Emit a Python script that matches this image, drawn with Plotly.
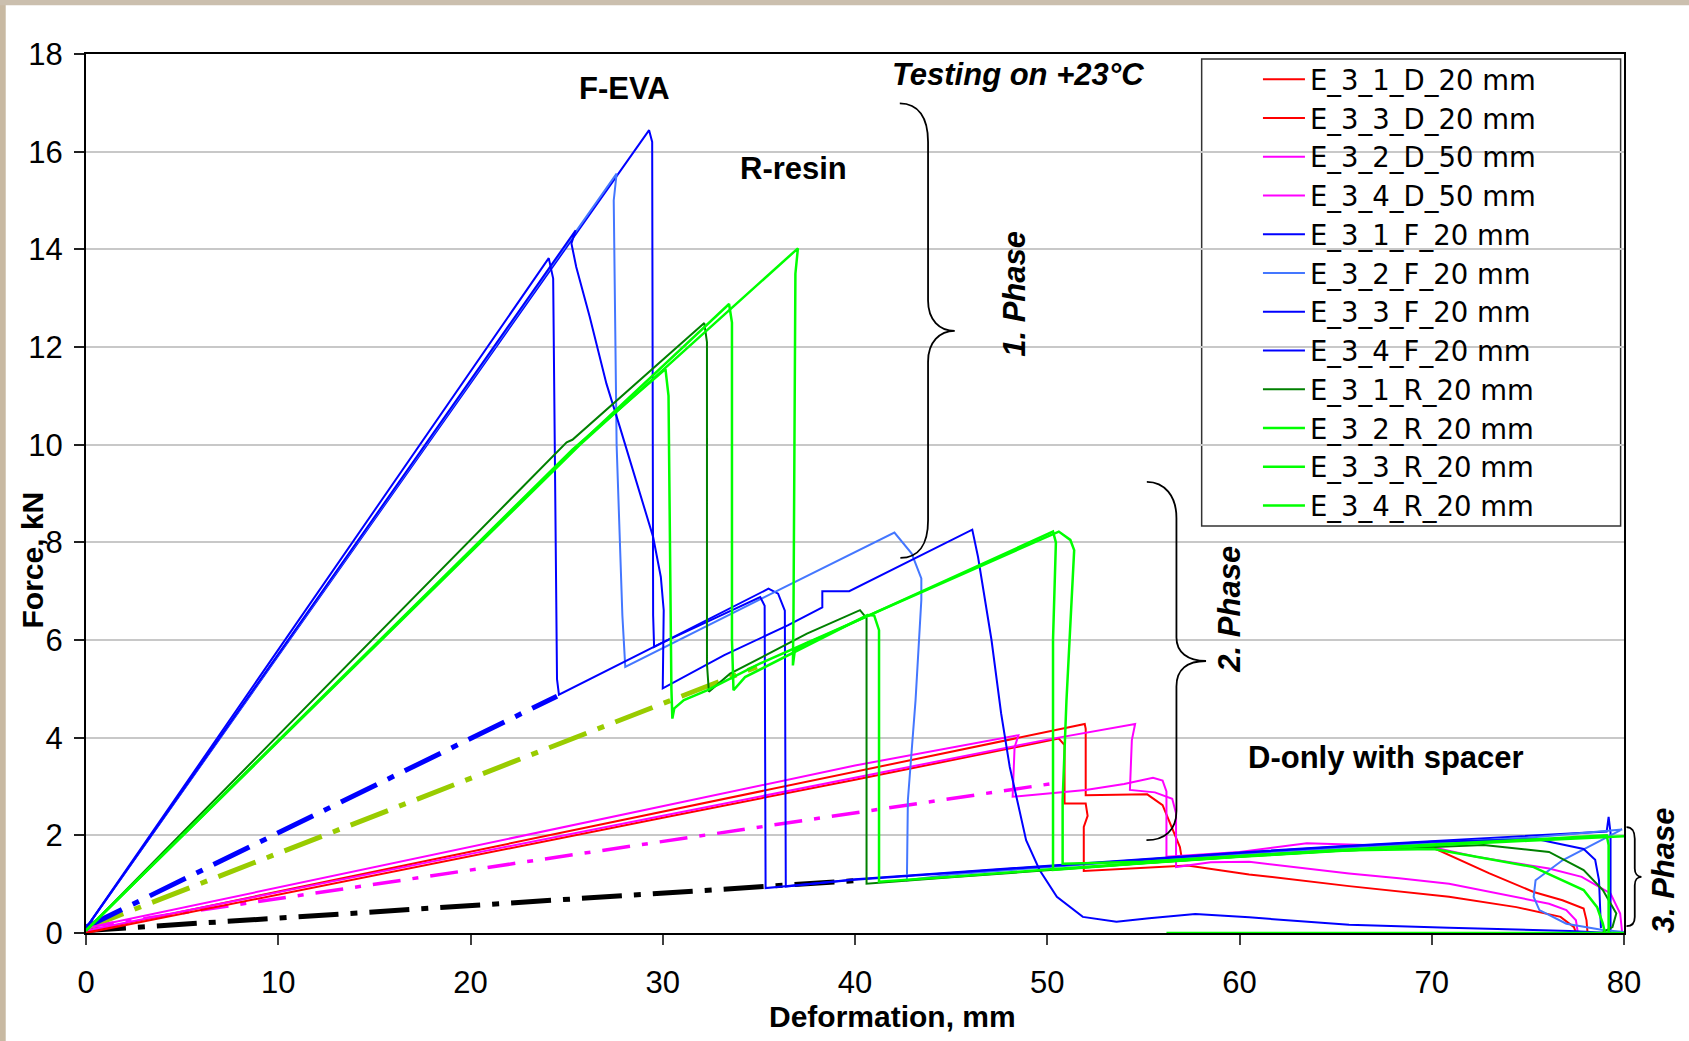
import plotly.graph_objects as go

FONT = "Liberation Sans, Arial, Helvetica, sans-serif"
LEGEND_FONT = "DejaVu Sans, Liberation Sans, Arial, sans-serif"

# ---- measured curves: deformation (mm) vs force (kN) ----
# D-only specimens
e31d_x = [0, 10, 20, 30, 40, 46, 51.95, 52.0, 52.0, 55.2, 56.0, 56.9, 57.0, 60, 65, 70.1, 73.0, 75.3, 76.8, 77.9, 78.05, 78.1]
e31d_y = [0.03, 0.85, 1.67, 2.49, 3.31, 3.8, 4.28, 4.18, 2.82, 2.84, 2.62, 1.76, 1.52, 1.58, 1.7, 1.74, 1.22, 0.84, 0.67, 0.5, 0.26, 0.02]

e33d_x = [0, 10, 20, 30, 40, 49.5, 50.6, 50.9, 50.9, 52.0, 52.1, 51.9, 51.9, 57.3, 60.5, 65.7, 70.9, 74.4, 76.7, 77.4, 77.5]
e33d_y = [0.0, 0.79, 1.57, 2.36, 3.14, 3.88, 3.98, 3.85, 2.65, 2.65, 2.4, 2.17, 1.27, 1.38, 1.2, 0.96, 0.74, 0.53, 0.33, 0.12, 0.0]

e32d_x = [0, 10, 20, 30, 40, 50, 54.57, 54.4, 54.3, 55.6, 56.5, 56.7, 56.7, 58.5, 60.5, 65.7, 68.3, 70.9, 76.1, 77.0, 77.5, 77.6]
e32d_y = [0.05, 0.84, 1.62, 2.4, 3.18, 3.96, 4.28, 3.95, 2.93, 2.88, 2.75, 2.45, 1.35, 1.45, 1.46, 1.22, 1.12, 1.01, 0.6, 0.47, 0.26, 0.0]

e34d_x = [0, 10, 20, 30, 40, 48.5, 48.3, 48.2, 50, 52, 54, 55.5, 56.0, 56.2, 56.2, 60, 63.5, 67, 70, 72.3, 76.1, 77.8, 79.3, 79.8, 79.9]
e34d_y = [0.1, 0.93, 1.77, 2.6, 3.43, 4.05, 3.8, 2.79, 2.85, 2.93, 3.05, 3.18, 3.12, 2.9, 1.56, 1.66, 1.84, 1.8, 1.76, 1.56, 1.32, 1.15, 0.81, 0.4, 0.02]

# F-EVA specimens
e31f_x = [0, 29.29, 29.45, 29.5, 29.55, 35.5, 36.0, 36.35, 36.4, 40, 45, 50, 55, 60, 65, 70, 75, 79.1, 79.2, 79.3, 79.3]
e31f_y = [0.1, 16.44, 16.2, 6.5, 5.86, 7.05, 6.95, 6.6, 0.95, 1.1, 1.24, 1.38, 1.52, 1.65, 1.77, 1.88, 1.98, 2.08, 2.38, 2.05, 0.0]

e32f_x = [0, 27.6, 27.45, 27.6, 27.9, 28.05, 35.5, 42.05, 42.95, 43.45, 43.45, 43.15, 42.75, 42.7, 45, 50, 55, 60, 65, 70, 75, 79.9, 76.8, 75.4, 75.3, 75.6, 77.0, 78.9, 80]
e32f_y = [0.1, 15.55, 15.0, 10.0, 6.5, 5.45, 6.92, 8.2, 7.77, 7.26, 6.82, 4.77, 2.72, 1.08, 1.2, 1.35, 1.49, 1.62, 1.74, 1.85, 1.95, 2.12, 1.49, 1.08, 0.74, 0.47, 0.19, 0.06, 0.02]

e33f_x = [0, 24.07, 24.3, 24.5, 24.6, 29.9, 35.07, 35.3, 35.35, 40, 45, 50, 55, 60, 65, 70, 75.5, 77.9, 78.5, 78.7, 78.8]
e33f_y = [0.1, 13.82, 13.4, 5.2, 4.88, 5.93, 6.88, 6.7, 0.92, 1.09, 1.23, 1.37, 1.51, 1.64, 1.76, 1.87, 1.92, 1.72, 1.5, 1.08, 0.1]

e34f_x = [0, 25.47, 25.25, 25.5, 26.2, 27.07, 27.77, 28.9, 29.5, 29.9, 30.05, 30.0, 33.2, 36.5, 38.3, 38.3, 39.7, 46.1, 46.4, 47.1, 47.6, 48.05, 48.9, 49.6, 50.5, 51.85, 53.6, 55.3, 57.7, 60.5, 65.7, 70.9, 77.2, 79.3]
e34f_y = [0.1, 14.39, 14.12, 13.64, 12.62, 11.25, 10.36, 8.86, 8.11, 7.29, 6.61, 5.01, 5.69, 6.3, 6.67, 7.0, 7.0, 8.26, 7.7, 6.0, 4.5, 3.4, 1.9, 1.29, 0.74, 0.33, 0.23, 0.3, 0.39, 0.32, 0.17, 0.11, 0.04, 0.0]

# R-resin specimens
e31r_x = [0, 25.0, 25.3, 32.16, 32.3, 32.3, 32.4, 33.5, 37.5, 40.26, 40.6, 40.6, 45, 50, 55, 60, 65, 72.7, 76.1, 77.9, 78.9, 79.6, 79.4, 78.9]
e31r_y = [0.05, 10.05, 10.1, 12.49, 12.1, 5.5, 4.94, 5.31, 6.13, 6.61, 6.45, 1.01, 1.14, 1.29, 1.43, 1.56, 1.68, 1.8, 1.66, 1.29, 0.88, 0.4, 0.12, 0.02]

e32r_x = [0, 25.7, 37.03, 36.9, 36.8, 36.77, 36.87, 37.47, 38.47, 50.3, 50.45, 50.3, 50.3, 55, 60, 65, 70, 75, 80]
e32r_y = [0.05, 10.0, 14.02, 13.5, 6.5, 5.48, 5.79, 5.93, 6.1, 8.22, 8.0, 6.0, 1.29, 1.43, 1.56, 1.68, 1.79, 1.89, 1.98]

e33r_x = [0, 25.5, 33.45, 33.6, 33.6, 33.68, 34.28, 35.47, 40.65, 41.0, 41.25, 41.25, 45, 50, 55, 60, 65, 70.1, 75.3, 77.9, 78.6, 78.9, 79.0]
e33r_y = [0.05, 9.95, 12.88, 12.5, 6.0, 4.97, 5.24, 5.48, 6.51, 6.5, 6.2, 1.05, 1.15, 1.3, 1.44, 1.57, 1.69, 1.72, 1.35, 0.88, 0.53, 0.19, 0.02]

e34r_x = [0, 25.3, 30.14, 30.3, 30.45, 30.5, 30.6, 31.1, 32.3, 35.07, 50.6, 51.2, 51.4, 51.0, 50.8, 50.8, 55, 60, 65, 70, 75, 79.1, 79.2, 79.2, None, 56.2, 80]
e34r_y = [0.05, 9.9, 11.55, 11.0, 5.0, 4.39, 4.6, 4.77, 4.97, 5.52, 8.22, 8.05, 7.84, 4.77, 2.72, 1.42, 1.46, 1.58, 1.7, 1.81, 1.91, 2.0, 1.8, 0.0, None, 0.0, 0.0]

# dash-dot stiffness lines back to the origin
ref_f_x, ref_f_y = [0, 24.5], [0.12, 4.85]
ref_r_x, ref_r_y = [0, 34.9], [0.1, 5.45]
ref_d50_x, ref_d50_y = [0, 50.6], [0.12, 3.08]
ref_sp_x, ref_sp_y = [0, 40.3], [0.05, 1.08]

series = [
    ("E_3_1_D_20 mm", e31d_x, e31d_y, "#ff0000", 2),
    ("E_3_3_D_20 mm", e33d_x, e33d_y, "#ff0000", 2),
    ("E_3_2_D_50 mm", e32d_x, e32d_y, "#ff00ff", 2),
    ("E_3_4_D_50 mm", e34d_x, e34d_y, "#ff00ff", 2),
    ("E_3_1_F_20 mm", e31f_x, e31f_y, "#0000ff", 2),
    ("E_3_2_F_20 mm", e32f_x, e32f_y, "#4477ff", 2),
    ("E_3_3_F_20 mm", e33f_x, e33f_y, "#0000ff", 2),
    ("E_3_4_F_20 mm", e34f_x, e34f_y, "#0000ff", 2),
    ("E_3_1_R_20 mm", e31r_x, e31r_y, "#008000", 2),
    ("E_3_2_R_20 mm", e32r_x, e32r_y, "#00ff00", 2.5),
    ("E_3_3_R_20 mm", e33r_x, e33r_y, "#00ff00", 2.5),
    ("E_3_4_R_20 mm", e34r_x, e34r_y, "#00ff00", 2.5),
]

ref_lines = [
    (ref_sp_x, ref_sp_y, "#000000", 5, "40px,12px,7px,12px"),
    (ref_d50_x, ref_d50_y, "#ff00ff", 3.5, "28px,12px,6px,12px"),
    (ref_r_x, ref_r_y, "#99cc00", 5, "40px,12px,7px,12px"),
    (ref_f_x, ref_f_y, "#0000ff", 5, "40px,12px,7px,12px"),
]

fig = go.Figure()

for rx, ry, col, w, dash in ref_lines:
    fig.add_trace(go.Scatter(x=rx, y=ry, mode="lines", showlegend=False,
                             line=dict(color=col, width=w, dash=dash)))

for name, sx, sy, col, w in series:
    fig.add_trace(go.Scatter(x=sx, y=sy, mode="lines", name=name,
                             line=dict(color=col, width=w)))

# plot-area geometry (paper fractions) used for off-axis decorations
X_MAX, Y_MAX = 80.0, 18.0


def to_paper(x, y):
    return x / X_MAX, y / Y_MAX


def brace_path(pts, paper=False):
    segs = []
    for cmd, coords in pts:
        if paper:
            coords = [to_paper(px, py) for px, py in coords]
        segs.append(cmd + " " + " ".join(f"{px:.5f},{py:.5f}" for px, py in coords))
    return " ".join(segs)


brace1 = [("M", [(42.33, 16.99)]),
          ("C", [(43.3, 16.99), (43.8, 16.7), (43.8, 16.2)]),
          ("L", [(43.8, 12.95)]),
          ("C", [(43.8, 12.55), (44.4, 12.33), (45.19, 12.33)]),
          ("C", [(44.4, 12.33), (43.8, 12.1), (43.8, 11.7)]),
          ("L", [(43.8, 8.45)]),
          ("C", [(43.8, 7.95), (43.3, 7.68), (42.36, 7.68)])]

brace2 = [("M", [(55.18, 9.24)]),
          ("C", [(56.1, 9.24), (56.72, 8.95), (56.72, 8.5)]),
          ("L", [(56.72, 6.05)]),
          ("C", [(56.72, 5.75), (57.3, 5.57), (58.26, 5.57)]),
          ("C", [(57.3, 5.57), (56.72, 5.4), (56.72, 5.05)]),
          ("L", [(56.72, 2.5)]),
          ("C", [(56.72, 2.1), (56.1, 1.9), (55.16, 1.9)])]

brace3 = [("M", [(80.13, 2.17)]),
          ("C", [(80.4, 2.17), (80.56, 2.08), (80.56, 1.93)]),
          ("L", [(80.56, 1.32)]),
          ("C", [(80.56, 1.22), (80.7, 1.15), (80.91, 1.15)]),
          ("C", [(80.7, 1.15), (80.56, 1.08), (80.56, 0.98)]),
          ("L", [(80.56, 0.33)]),
          ("C", [(80.56, 0.2), (80.4, 0.14), (80.13, 0.14)])]

shapes = [
    dict(type="path", xref="x", yref="y", path=brace_path(brace1),
         line=dict(color="black", width=1.8)),
    dict(type="path", xref="x", yref="y", path=brace_path(brace2),
         line=dict(color="black", width=1.8)),
    dict(type="path", xref="paper", yref="paper", path=brace_path(brace3, paper=True),
         line=dict(color="black", width=1.8)),
    # legend frame
    dict(type="rect", xref="paper", yref="paper", x0=0.7254, x1=0.9978, y0=0.4629, y1=0.9943,
         line=dict(color="#333333", width=1.5), fillcolor="white", layer="below"),
    # textured page edges
    dict(type="rect", xref="paper", yref="paper", x0=-0.0561, x1=-0.0522, y0=-0.124, y1=1.062,
         line=dict(width=0), fillcolor="#c8b9a2", layer="below"),
    dict(type="rect", xref="paper", yref="paper", x0=-0.0561, x1=1.043, y0=1.0555, y1=1.062,
         line=dict(width=0), fillcolor="#cbbfae", layer="below"),
]

bold = dict(family=FONT, size=31, color="black")


def note(x, y, text, ref="data", angle=0, font=bold):
    r = ("x", "y") if ref == "data" else ("paper", "paper")
    return dict(x=x, y=y, xref=r[0], yref=r[1], text=text, showarrow=False,
                xanchor="center", yanchor="middle", textangle=angle, font=font)


title_font = dict(family=FONT, size=30, color="black")
annotations = [
    note(28.02, 17.29, "<b>F-EVA</b>"),
    note(36.81, 15.66, "<b>R-resin</b>"),
    note(48.47, 17.58, "<b><i>Testing on +23°C</i></b>"),
    note(48.3, 13.08, "<b><i>1. Phase</i></b>", angle=-90),
    note(59.5, 6.64, "<b><i>2. Phase</i></b>", angle=-90),
    note(82.07 / X_MAX, 1.28 / Y_MAX, "<b><i>3. Phase</i></b>", ref="paper", angle=-90),
    note(67.63, 3.59, "<b>D-only with spacer</b>"),
    note(0.5245, -0.0947, "<b>Deformation, mm</b>", ref="paper", font=title_font),
    note(-0.035, 0.424, "<b>Force, kN</b>", ref="paper", angle=-90, font=title_font),
]

fig.update_layout(
    width=1689, height=1041,
    margin=dict(l=86, r=65, t=54, b=108),
    paper_bgcolor="white", plot_bgcolor="white",
    font=dict(family=FONT, size=30, color="black"),
    showlegend=True,
    legend=dict(x=0.762, y=0.999, xanchor="left", yanchor="top",
                bgcolor="rgba(0,0,0,0)", borderwidth=0, itemwidth=42,
                font=dict(family=LEGEND_FONT, size=27.5, color="black"), tracegroupgap=0),
    shapes=shapes,
    annotations=annotations,
    xaxis=dict(range=[0, 80], dtick=10, tick0=0, showgrid=False, zeroline=False,
               showline=True, linecolor="black", linewidth=2, mirror=True,
               ticks="outside", ticklen=10, tickcolor="#404040", tickwidth=1.5,
               ticklabelstandoff=11, tickfont=dict(size=31)),
    yaxis=dict(range=[0, 18], dtick=2, tick0=0, showgrid=True, gridcolor="#c8c8c8", gridwidth=1.5,
               zeroline=False, showline=True, linecolor="black", linewidth=2, mirror=True,
               ticks="outside", ticklen=10, tickcolor="#202020", tickwidth=1.5,
               ticklabelstandoff=5, tickfont=dict(size=31)),
)

fig.write_html("out.html")
